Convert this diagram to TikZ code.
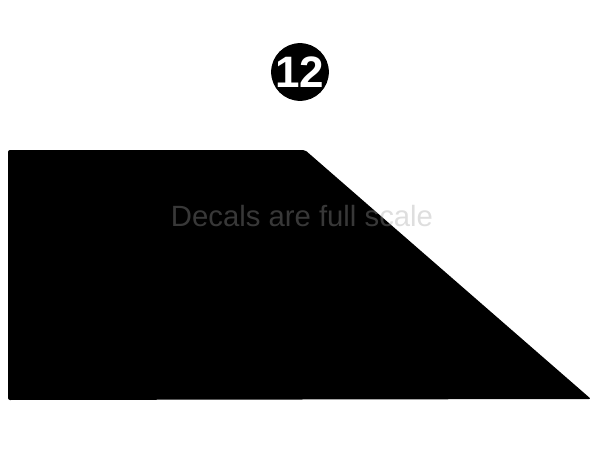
\documentclass[tikz,border=0pt]{standalone}
\usepackage{fontspec}
\setmainfont{Liberation Sans}
\begin{document}
\begin{tikzpicture}[x=1pt, y=-1pt,
  badge/.style={circle, fill=black, minimum size=55pt, inner sep=0pt, text=white, font=\bfseries\fontsize{44}{44}\selectfont},
  note/.style={text=black!37, text opacity=0.35, font=\fontsize{29.3}{30}\selectfont}]
\useasboundingbox (0,0) rectangle (600,450);
\fill[black, rounded corners=2pt] (8,150)--(305,150)--(591,399)--(8,400)--cycle;
\node[badge] (num) at (300,72) {12};
\node[note] (scale) at (302,216) {Decals are full scale};
\end{tikzpicture}
\end{document}
